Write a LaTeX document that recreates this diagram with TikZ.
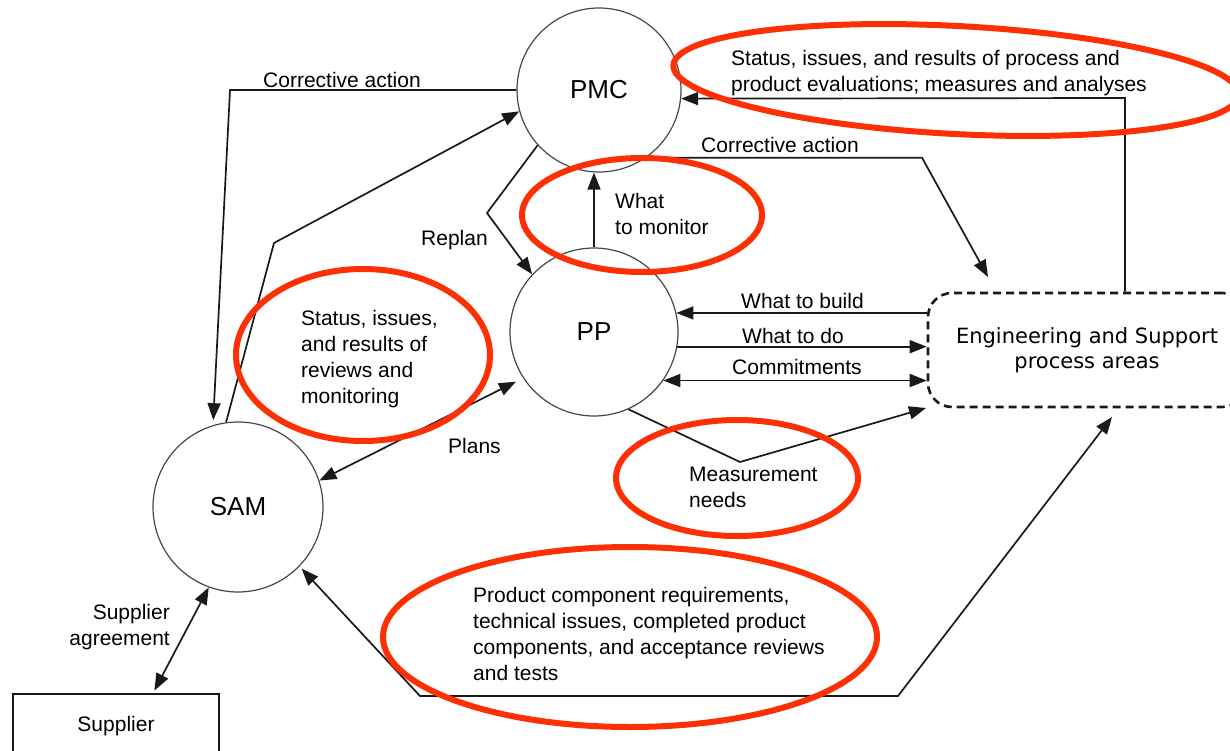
\documentclass[tikz,border=0pt]{standalone}
\usepackage{fontspec}
\setmainfont{Liberation Sans}
\newfontfamily\engfont{DejaVu Sans}
\usetikzlibrary{arrows.meta,calc}
\definecolor{ringred}{RGB}{252,48,4}
\definecolor{ink}{RGB}{25,25,25}
\begin{document}
\begin{tikzpicture}[x=1pt,y=-1pt,
  proc/.style={circle,draw=ink!80,line width=1.2pt,minimum size=#1,inner sep=0pt,
    font=\fontsize{26}{30}\selectfont},
  lbl/.style={inner sep=0pt,anchor=north west,align=left,font=\fontsize{21}{26}\selectfont},
  flow/.style={draw=ink,line width=1.7pt,-{Triangle[length=17pt,width=13pt]}},
  twoway/.style={draw=ink,line width=1.7pt,{Triangle[length=17pt,width=13pt]}-{Triangle[length=17pt,width=13pt]}},
  ring/.style={draw=ringred,line width=6pt}
]
\useasboundingbox (0,0) rectangle (1230,751);

% process areas
\node[proc=164pt] (pmc) at (599,90) {PMC};
\node[proc=168pt] (pp) at (594,332) {PP};
\node[proc=170pt] (sam) at (238,507) {SAM};
\node[draw=ink,line width=2.6pt,dash pattern=on 8pt off 5pt,rounded corners=24pt,
  minimum width=318pt,minimum height=114pt,inner sep=0pt,align=center,
  font=\engfont\fontsize{21}{25}\selectfont] (eng) at (1087,350)
  {Engineering and Support\\process areas};
\node[draw=ink,line width=1.6pt,minimum width=206pt,minimum height=64pt,inner sep=0pt,
  font=\fontsize{21}{26}\selectfont] (sup) at (116,726) {Supplier};

% bend points and free ends
\coordinate (caL) at (230,91);
\coordinate (b1) at (274,243);
\coordinate (rp) at (487,213);
\coordinate (cb2) at (922,157);
\coordinate (ct2) at (988,277);
\coordinate (sb) at (1125,98);
\coordinate (mb) at (740,462);
\coordinate (mt) at (926,408);
\coordinate (pl) at (420,696);
\coordinate (pr) at (898,696);
\coordinate (pt) at (1112,417);
\coordinate (sa) at (153,694);

% connectors
\draw[flow,shorten >=5pt] (pmc.west) -- (caL |- pmc.west) -- (sam.107);
\draw[flow] (sam.98) -- (b1) -- (pmc.195);
\draw[flow] (pmc.222) -- (rp) -- (pp.137);
\draw[flow] (pp.north) -- (pp.north |- pmc.south);
\draw[flow] (pmc.305) -- (pmc.305 -| cb2) -- (ct2);
\draw[flow] (eng.north -| sb) -- (sb) -- (pmc.354);
\draw[flow] (pp.13 -| eng.west) -- (pp.13);
\draw[flow] (pp.-10) -- (pp.-10 -| eng.west);
\draw[twoway] (pp.-35) -- (pp.-35 -| eng.west);
\draw[flow] (pp.-66) -- (mb) -- (mt);
\draw[twoway,shorten <=3pt] (sam.-44) -- (pl) -- (pr) -- (pt);
\draw[twoway,shorten >=8pt] (sam.18) -- (pp.213);
\draw[twoway,shorten <=3pt] (sa |- sup.north) -- (sam.250);

% connector labels
\node[lbl] (lca1) at (263,68.8) {\strut Corrective action};
\node[lbl] (lca2) at (701,133.8) {\strut Corrective action};
\node[lbl] (lmon) at (615,189.8) {\strut What\\to monitor};
\node[lbl] (lrep) at (421,226.8) {\strut Replan};
\node[lbl] (lstat) at (731,46.8) {\strut Status, issues, and results of process and\\product evaluations; measures and analyses};
\node[lbl] (lbuild) at (741,289.8) {\strut What to build};
\node[lbl] (ldo) at (742,324.8) {\strut What to do};
\node[lbl] (lcom) at (732,355.8) {\strut Commitments};
\node[lbl] (lrev) at (301,306.8) {\strut Status, issues,\\and results of\\reviews and\\monitoring};
\node[lbl] (lplan) at (448,434.8) {\strut Plans};
\node[lbl] (lmeas) at (689,462.8) {\strut Measurement\\needs};
\node[lbl] (lprod) at (473,583.8) {\strut Product component requirements,\\technical issues, completed product\\components, and acceptance reviews\\and tests};
\node[lbl,anchor=north east,align=right] (lagr) at (170,600.8) {\strut Supplier\\agreement};

% highlight rings
\draw[ring,rotate around={-3:(956,80)}] (956,80) ellipse [x radius=283, y radius=54];
\draw[ring] (642,215) ellipse [x radius=120, y radius=57];
\draw[ring] (363,355) ellipse [x radius=127, y radius=86];
\draw[ring] (737,478) ellipse [x radius=121, y radius=58];
\draw[ring] (630,637) ellipse [x radius=247, y radius=90];
\end{tikzpicture}
\end{document}
